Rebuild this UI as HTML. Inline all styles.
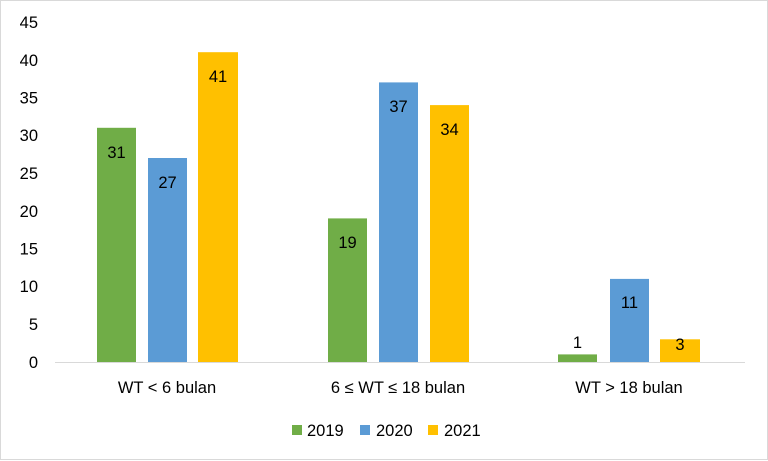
<!DOCTYPE html>
<html><head><meta charset="utf-8"><style>
body{margin:0;background:#fff}
svg{display:block;font-family:"Liberation Sans",sans-serif}
</style></head><body>
<svg width="768" height="461" viewBox="0 0 768 461">
<rect x="0.5" y="0.5" width="767" height="459" fill="#fff" stroke="#d9d9d9"/>
<g font-size="16.5" fill="#000" text-anchor="end">
<text x="38" y="28">45</text><text x="38" y="66">40</text><text x="38" y="103.5">35</text><text x="38" y="141">30</text><text x="38" y="179">25</text><text x="38" y="217">20</text><text x="38" y="254.5">15</text><text x="38" y="292">10</text><text x="38" y="330">5</text><text x="38" y="368">0</text>
</g>
<line x1="55" y1="362.5" x2="745" y2="362.5" stroke="#d9d9d9"/>
<g>
<rect x="97" y="127.8" width="39" height="234.2" fill="#70ad47"/>
<rect x="148" y="158" width="39" height="204" fill="#5b9bd5"/>
<rect x="198" y="52.2" width="40" height="309.8" fill="#ffc000"/>
<rect x="328" y="218.4" width="39" height="143.6" fill="#70ad47"/>
<rect x="379" y="82.4" width="39" height="279.6" fill="#5b9bd5"/>
<rect x="430" y="105.1" width="39" height="256.9" fill="#ffc000"/>
<rect x="558" y="354.4" width="39" height="7.6" fill="#70ad47"/>
<rect x="610" y="278.9" width="39" height="83.1" fill="#5b9bd5"/>
<rect x="660" y="339.3" width="40" height="22.7" fill="#ffc000"/>
</g>
<g font-size="16.5" fill="#000" text-anchor="middle">
<text x="116.5" y="158">31</text><text x="167.5" y="188">27</text><text x="218" y="82">41</text>
<text x="347.5" y="248">19</text><text x="398.5" y="112">37</text><text x="449.5" y="135">34</text>
<text x="577.5" y="348">1</text><text x="629.5" y="308">11</text><text x="680" y="350">3</text>
<text x="167" y="393">WT &lt; 6 bulan</text>
<text x="398" y="393">6 ≤ WT ≤ 18 bulan</text>
<text x="629" y="393">WT &gt; 18 bulan</text>
</g>
<rect x="292" y="425" width="10" height="10" fill="#70ad47"/>
<rect x="360" y="425" width="10" height="10" fill="#5b9bd5"/>
<rect x="428" y="425" width="10" height="10" fill="#ffc000"/>
<g font-size="16.5" fill="#000">
<text x="307" y="436">2019</text><text x="376" y="436">2020</text><text x="444" y="436">2021</text>
</g>
</svg>
</body></html>
